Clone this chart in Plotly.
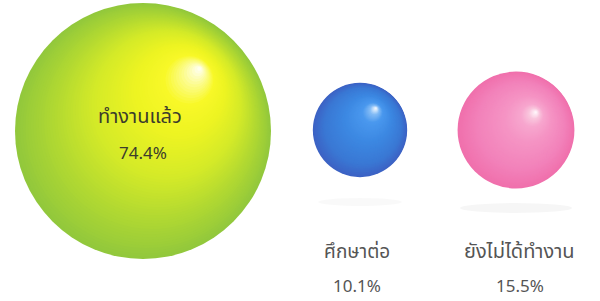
import plotly.graph_objects as go
import numpy as np

# ---- data ----
categories = ["ทำงานแล้ว", "ศึกษาต่อ", "ยังไม่ได้ทำงาน"]
values = [74.4, 10.1, 15.5]
value_labels = [f"{v:.1f}%" for v in values]

# ---- layout / style (not data) ----
centers = [(143, 131), (360, 130), (516, 130)]
highlights = [(200, 68), (376, 108), (536, 112)]
color_stops = [
    [(0.0, "#92c83c"), (0.2, "#b0d832"), (0.42, "#d4ea28"), (0.65, "#eef422"),
     (0.8, "#f8f828"), (0.9, "#fcfc8a"), (1.0, "#ffffff")],
    [(0.0, "#3c62c4"), (0.18, "#3a78d4"), (0.5, "#3c88e2"), (0.78, "#4a98ee"),
     (0.9, "#84bcf6"), (0.96, "#d4e8fc"), (1.0, "#ffffff")],
    [(0.0, "#f070ac"), (0.25, "#f282ba"), (0.6, "#f594c4"), (0.8, "#f7a6ce"),
     (0.9, "#f9c4dc"), (0.96, "#fde6f1"), (1.0, "#ffffff")],
]
BIG_R = 128  # pixel radius for largest value
sizeref = max(values) / 2 / BIG_R ** 2
N = 70


def hex2rgb(h):
    h = h.lstrip("#")
    return np.array([int(h[i:i + 2], 16) for i in (0, 2, 4)], dtype=float)


def interp(stops, t):
    for (t0, c0), (t1, c1) in zip(stops[:-1], stops[1:]):
        if t <= t1:
            u = 0 if t1 == t0 else (t - t0) / (t1 - t0)
            c = hex2rgb(c0) * (1 - u) + hex2rgb(c1) * u
            return "rgb(%d,%d,%d)" % tuple(np.round(c))
    return stops[-1][1]


fig = go.Figure()

# faint shadows
shadows = [(360, 202, 42, 4, 0.025), (516, 208, 56, 5, 0.035)]
for sx, sy, rx, ry, a in shadows:
    fig.add_shape(type="circle", xref="x", yref="y", x0=sx - rx, x1=sx + rx,
                  y0=sy - ry, y1=sy + ry, fillcolor=f"rgba(0,0,0,{a})",
                  line=dict(width=0), layer="below")

for i, v in enumerate(values):
    cx, cy = centers[i]
    hx, hy = highlights[i]
    ts = np.linspace(0, 0.985, N)
    xs = [cx + t * (hx - cx) for t in ts]
    ys = [cy + t * (hy - cy) for t in ts]
    sizes = [v * (1 - t) ** 2 for t in ts]
    cols = [interp(color_stops[i], t) for t in ts]
    fig.add_trace(go.Scatter(
        x=xs, y=ys, mode="markers", hoverinfo="skip", showlegend=False,
        marker=dict(size=sizes, sizemode="area", sizeref=sizeref,
                    color=cols, line=dict(width=0), opacity=1),
    ))

font_family = "Noto Sans Thai, Noto Sans, DejaVu Sans, sans-serif"
label_pos = [((140, 117), (143, 154)), ((357, 252), (357, 287)), ((519, 252), (520, 287))]
label_sizes = [20, 19, 20]
label_colors = ["#3c3c2c", "#555555", "#555555"]
for i, cat in enumerate(categories):
    (tx, ty), (px, py) = label_pos[i]
    fig.add_annotation(x=tx, y=ty, text=cat, showarrow=False, xanchor="center",
                       yanchor="middle", font=dict(family=font_family, size=label_sizes[i],
                                                   color=label_colors[i]))
    fig.add_annotation(x=px, y=py, text=value_labels[i], showarrow=False,
                       xanchor="center", yanchor="middle",
                       font=dict(family=font_family, size=17, color=label_colors[i]))

fig.update_layout(
    width=600, height=301, margin=dict(l=0, r=0, t=0, b=0),
    paper_bgcolor="white", plot_bgcolor="white",
    xaxis=dict(range=[0, 600], visible=False, fixedrange=True),
    yaxis=dict(range=[301, 0], visible=False, fixedrange=True),
)

fig.write_html("out.html", config={"displayModeBar": False, "staticPlot": True},
               post_script="document.body.style.margin='0';document.body.style.overflow='hidden';")
